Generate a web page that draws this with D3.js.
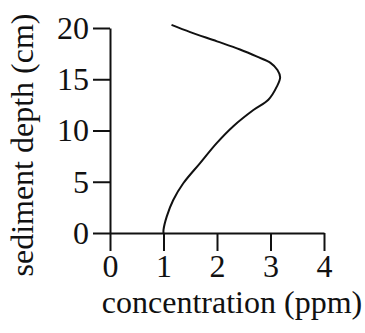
<!DOCTYPE html>
<html>
<head>
<meta charset="utf-8">
<script src="https://cdn.jsdelivr.net/npm/d3@7"></script>
<style>
  body { margin: 0; background: #fff; }
</style>
</head>
<body>
<div id="chart"></div>
<script>
// Data
const depth = [20.3, 19.6, 18.7, 17.9, 17.2, 16.6, 15.9, 15.2, 14.3, 13.0, 12.0, 10.4, 8.75, 6.8, 4.85, 3.2, 1.6, 0.3, 0];
const concentration = [1.15, 1.5, 2.0, 2.43, 2.75, 3.0, 3.13, 3.18, 3.12, 2.96, 2.68, 2.3, 1.99, 1.68, 1.37, 1.18, 1.06, 1.0, 1.0];
const xTicks = [0, 1, 2, 3, 4];
const yTicks = [0, 5, 10, 15, 20];

const serif = "'Liberation Serif', 'Times New Roman', serif";
const fontSize = '32px';

const width = 365;
const height = 333;
const margin = { top: 28, right: 41, bottom: 100, left: 110 };
const plotWidth = width - margin.left - margin.right;
const plotHeight = height - margin.top - margin.bottom;

const svg = d3.select('#chart')
  .append('svg')
  .attr('width', width)
  .attr('height', height);

const g = svg.append('g')
  .attr('transform', `translate(${margin.left},${margin.top})`);

// Scales
const x = d3.scaleLinear().domain([0, 4]).range([0, plotWidth]);
const y = d3.scaleLinear().domain([0, 20]).range([plotHeight, 0]);

// X axis
const xAxis = g.append('g')
  .attr('transform', `translate(0,${plotHeight})`)
  .call(d3.axisBottom(x).tickValues(xTicks).tickFormat(d3.format('d'))
    .tickSize(18).tickSizeOuter(0).tickPadding(3));

// Y axis
const yAxis = g.append('g')
  .call(d3.axisLeft(y).tickValues(yTicks).tickFormat(d3.format('d'))
    .tickSize(17).tickSizeOuter(0).tickPadding(4));

[xAxis, yAxis].forEach(ax => {
  ax.attr('font-family', serif).attr('font-size', fontSize);
  ax.selectAll('path, line').attr('stroke', '#111').attr('stroke-width', 2);
  ax.selectAll('text').attr('fill', '#111');
});

// Profile line
const points = depth.map((d, i) => ({ depth: d, c: concentration[i] }));
const line = d3.line()
  .x(d => x(d.c))
  .y(d => y(d.depth))
  .curve(d3.curveCatmullRom);

g.append('path')
  .datum(points)
  .attr('fill', 'none')
  .attr('stroke', '#111')
  .attr('stroke-width', 2)
  .attr('d', line);

// Axis titles
svg.append('text')
  .attr('x', 232)
  .attr('y', 313)
  .attr('text-anchor', 'middle')
  .attr('font-family', serif)
  .attr('font-size', fontSize)
  .attr('fill', '#111')
  .text('concentration (ppm)');

svg.append('text')
  .attr('transform', 'translate(33,145) rotate(-90)')
  .attr('text-anchor', 'middle')
  .attr('font-family', serif)
  .attr('font-size', fontSize)
  .attr('fill', '#111')
  .text('sediment depth (cm)');
</script>
</body>
</html>
